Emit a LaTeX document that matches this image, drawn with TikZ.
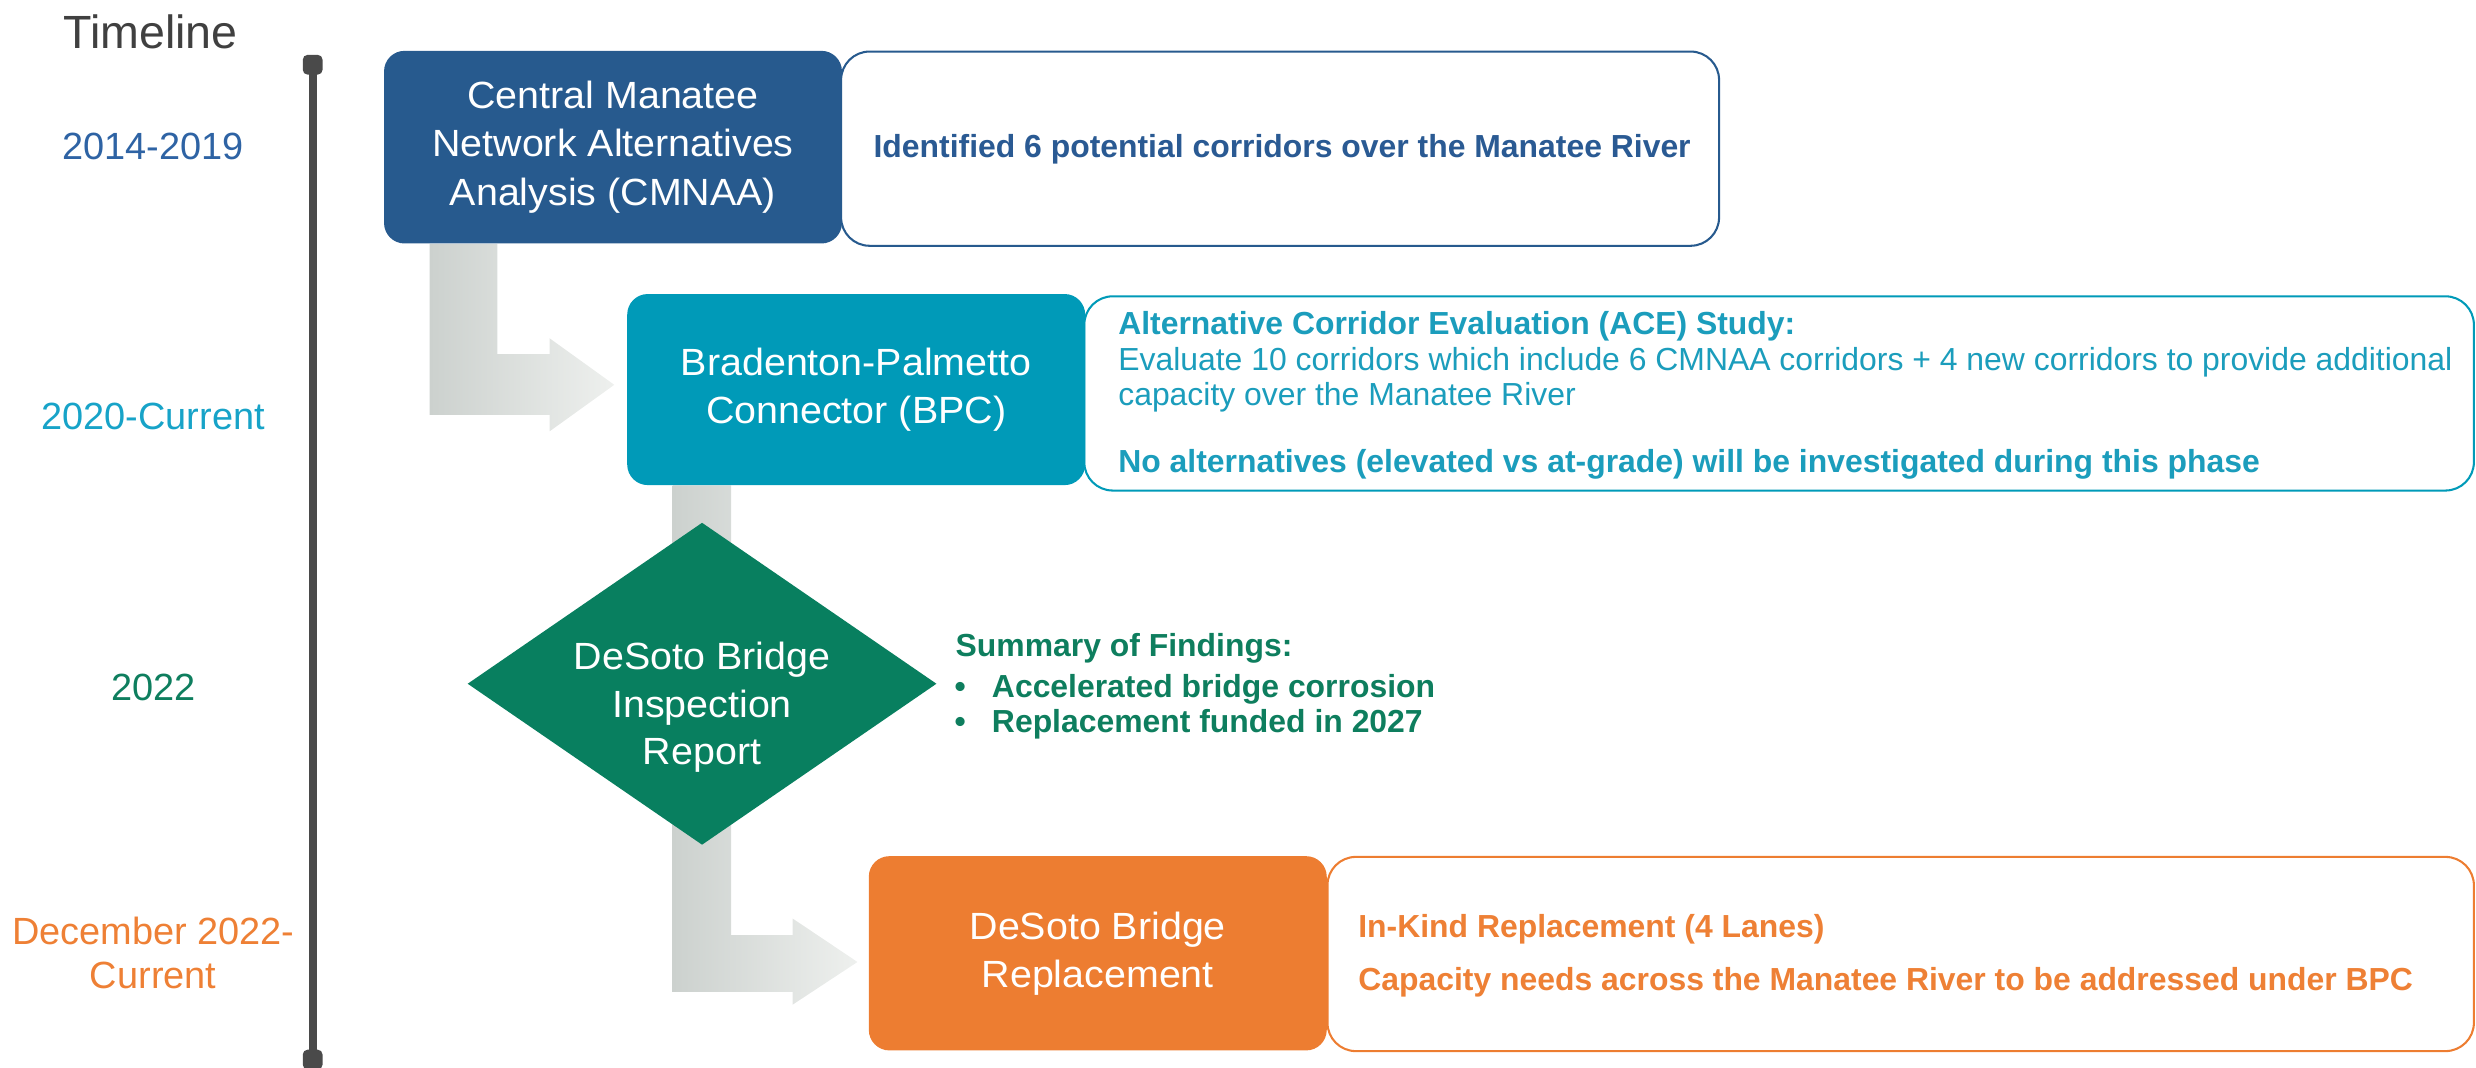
\documentclass[tikz,border=0pt]{standalone}
\usepackage{fontspec}
\setmainfont{Liberation Sans}
\newfontfamily\titlefont[FakeStretch=1.04]{Liberation Sans}
\usetikzlibrary{shapes.geometric,backgrounds,calc}
\definecolor{cblue}{HTML}{275A8E}
\definecolor{cteal}{HTML}{009AB8}
\definecolor{cgreen}{HTML}{087F5F}
\definecolor{corange}{HTML}{ED7D31}
\definecolor{tblue}{HTML}{2A5A93}
\definecolor{tteal}{HTML}{1B9DBC}
\definecolor{tgreen}{HTML}{0E7E5E}
\definecolor{torange}{HTML}{EE8035}
\definecolor{ylblue}{HTML}{2E63A4}
\definecolor{ylteal}{HTML}{17A3C8}
\definecolor{tlgray}{HTML}{4A4A4A}
\definecolor{tltext}{HTML}{404040}
\definecolor{arrowdark}{HTML}{CCD1CE}
\definecolor{arrowlight}{HTML}{EEF0EE}
\begin{document}
\begin{tikzpicture}[x=1pt,y=-1pt,
  titlebox/.style={rectangle, rounded corners=13pt, minimum width=290pt, minimum height=122pt,
    anchor=north west, inner sep=0pt, text=white, align=center,
    font=\titlefont\fontsize{24}{30.5}\selectfont},
  descbox/.style={rectangle, rounded corners=18pt, draw, line width=1.3pt, fill=white,
    anchor=north west, minimum height=123pt, inner sep=0pt},
  desctext/.style={anchor=base west, inner sep=0pt, font=\fontsize{20.2}{24}\selectfont},
  boldtext/.style={desctext, font=\bfseries\fontsize{20.2}{24}\selectfont},
  yearlabel/.style={anchor=base, inner sep=0pt, font=\fontsize{24}{28}\selectfont},
  tlcap/.style={rectangle, fill=tlgray, rounded corners=3pt, minimum size=12.5pt, inner sep=0pt},
  garrow/.style={left color=arrowdark, right color=arrowlight}
]
\useasboundingbox (0,0) rectangle (1568,676.3);

% timeline
\node[anchor=base west, inner sep=0pt, text=tltext, font=\fontsize{29.5}{34}\selectfont] (tltitle) at (40,30.6) {Timeline};
\node[tlcap] (tltop) at (198,41) {};
\node[tlcap] (tlbot) at (198,671) {};
\draw[tlgray, line width=5pt] (tltop.center) -- (tlbot.center);

\node[yearlabel, text=ylblue] (y1) at (97,101) {2014-2019};
\node[yearlabel, text=ylteal] (y2) at (97,272) {2020-Current};
\node[yearlabel, text=tgreen] (y3) at (97,443.5) {2022};
\node[yearlabel, text=torange] (y4a) at (97,598) {December 2022-};
\node[yearlabel, text=torange] (y4b) at (97,626) {Current};

% boxes
\node[descbox, draw=cblue, minimum width=556pt] (d1) at (532,32) {};
\node[titlebox, fill=cblue] (b1) at (243,32) {Central Manatee\\Network Alternatives\\Analysis (CMNAA)};

\node[descbox, draw=cteal, minimum width=880pt] (d2) at (686,187) {};
\node[titlebox, fill=cteal, minimum height=121pt] (b2) at (397,186) {Bradenton-Palmetto\\Connector (BPC)};

\node[descbox, draw=corange, minimum width=726pt] (d3) at (840,542) {};
\node[titlebox, fill=corange, minimum height=123pt] (b3) at (550,542) {DeSoto Bridge\\Replacement};

\node[diamond, fill=cgreen, minimum width=297pt, minimum height=204pt, inner sep=0pt] (dia) at (444.6,433) {};
\node[inner sep=0pt, text=white, align=center, font=\titlefont\fontsize{24}{30}\selectfont] (diat) at (444.6,448) {DeSoto Bridge\\Inspection\\Report};

% arrows
\begin{scope}[on background layer]
\shade[garrow] let \p1=($(b1.south west)+(29,0)$), \p2=($(b2.west)+(-8,-3)$) in
  (\x1,\y1) -- (\x1+43pt,\y1) -- (\x1+43pt,\y2+19.5pt) -- (\x2-41pt,\y2+19.5pt) -- (\x2-41pt,\y2+29.5pt)
  -- (\x2,\y2) -- (\x2-41pt,\y2-29.5pt) -- (\x2-41pt,\y2-19pt) -- (\x1,\y2-19pt) -- cycle;
\shade[garrow] let \p1=($(b2.south west)+(29,0)$), \p2=($(b3.west)+(-7,5.5)$) in
  (\x1,\y1) -- (\x1+37pt,\y1) -- (\x1+37pt,\y2+17pt) -- (\x2-41pt,\y2+17pt) -- (\x2-41pt,\y2+27.5pt)
  -- (\x2,\y2) -- (\x2-41pt,\y2-27pt) -- (\x2-41pt,\y2-19pt) -- (\x1,\y2-19pt) -- cycle;
\end{scope}

% descriptions
\node[boldtext, text=tblue] (d1t) at (553,99.5) {Identified 6 potential corridors over the Manatee River};

\node[boldtext, text=tteal] (d2a) at (708,212) {Alternative Corridor Evaluation (ACE) Study:};
\node[desctext, text=tteal] (d2b) at (708,234.5) {Evaluate 10 corridors which include 6 CMNAA corridors + 4 new corridors to provide additional};
\node[desctext, text=tteal] (d2c) at (708,256.5) {capacity over the Manatee River};
\node[boldtext, text=tteal] (d2d) at (708,299) {No alternatives (elevated vs at-grade) will be investigated during this phase};

\node[boldtext, text=tgreen] (sum) at (605,416) {Summary of Findings:};
\node[boldtext, anchor=base, text=tgreen] (bu1) at (608,442) {•};
\node[boldtext, text=tgreen] (s1) at (628,442) {Accelerated bridge corrosion};
\node[boldtext, anchor=base, text=tgreen] (bu2) at (608,464) {•};
\node[boldtext, text=tgreen] (s2) at (628,464) {Replacement funded in 2027};

\node[boldtext, text=torange] (d3a) at (860,593.5) {In-Kind Replacement (4 Lanes)};
\node[boldtext, text=torange] (d3b) at (860,627) {Capacity needs across the Manatee River to be addressed under BPC};
\end{tikzpicture}
\end{document}
